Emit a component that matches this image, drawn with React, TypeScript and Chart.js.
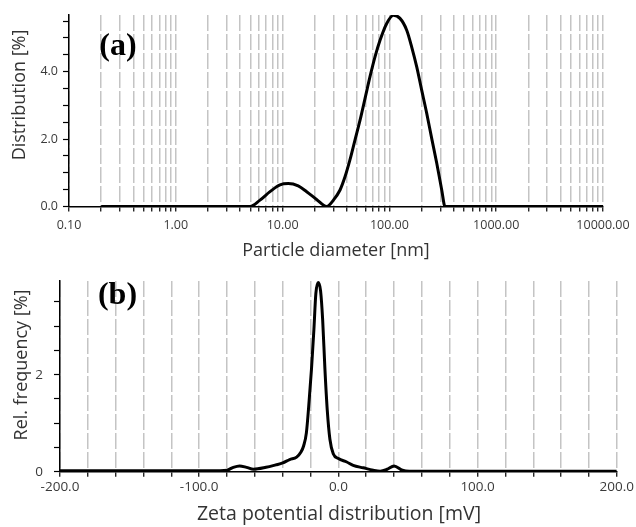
import React, { useEffect, useRef } from 'react';
import { Chart, registerables } from 'chart.js';

Chart.register(...registerables);

// ---------- Panel (a): particle size distribution ----------
const SIZE_NM = [0.2, 4.95, 6.14, 7.62, 9.46, 11.3, 14.0, 16.8, 20.8, 25.9, 29.9, 34.5, 38.4, 42.7, 47.6, 53.1, 59.1, 65.8, 73.3, 81.7, 94.4, 108.9, 125.6, 145.3, 161.8, 180.3, 200.6, 223.4, 248.9, 277.3, 309, 331.7, 10000];
const DISTRIBUTION = [0, 0, 0.19, 0.44, 0.64, 0.68, 0.61, 0.44, 0.21, 0, 0.19, 0.49, 0.88, 1.38, 1.97, 2.56, 3.2, 3.85, 4.44, 4.93, 5.43, 5.67, 5.58, 5.23, 4.73, 4.14, 3.45, 2.77, 2.02, 1.29, 0.49, 0, 0];

const SIZE_TICKS = [0.1, 0.2, 0.3, 0.4, 0.5, 0.6, 0.7, 0.8, 0.9, 1, 2, 3, 4, 5, 6, 7, 8, 9, 10, 20, 30, 40, 50, 60, 70, 80, 90, 100, 200, 300, 400, 500, 600, 700, 800, 900, 1000, 2000, 3000, 4000, 5000, 6000, 7000, 8000, 9000, 10000];
const SIZE_LABELS = [0.1, 1, 10, 100, 1000, 10000];
const DIST_TICKS = [0, 0.5, 1, 1.5, 2, 2.5, 3, 3.5, 4, 4.5, 5, 5.5];
const DIST_LABELS = [0, 2, 4];

// ---------- Panel (b): zeta potential distribution ----------
const ZETA_MV = [-200, -85, -80, -75.5, -71, -66, -61, -52, -45, -40, -35, -30, -27, -25, -23, -21, -19.3, -17.6, -16.2, -14.5, -12.8, -11.3, -9.7, -8, -6.1, -3.7, 0, 6, 10.6, 17.8, 25, 30, 35, 40, 46, 51, 200];
const REL_FREQ = [0.02, 0.02, 0.03, 0.09, 0.12, 0.09, 0.05, 0.09, 0.14, 0.18, 0.25, 0.3, 0.4, 0.53, 0.8, 1.47, 2.13, 2.93, 3.67, 3.9, 3.73, 3.13, 2.13, 1.27, 0.67, 0.37, 0.27, 0.2, 0.13, 0.08, 0.03, 0.01, 0.05, 0.12, 0.03, 0.01, 0.01];

const ZETA_TICKS = [-200, -180, -160, -140, -120, -100, -80, -60, -40, -20, 0, 20, 40, 60, 80, 100, 120, 140, 160, 180, 200];
const ZETA_LABELS = [-200, -100, 0, 100, 200];
const FREQ_TICKS = [0, 0.5, 1, 1.5, 2, 2.5, 3, 3.5];
const FREQ_LABELS = [0, 2];

const FAMILY = '"Open Sans", sans-serif';
const TICK_COLOR = '#3a3a3a';
const GRID_COLOR = '#c4c4c4';
const PANEL_FONT = 'bold 32px "Liberation Serif", "Times New Roman", serif';

type TextItem = { text: string; x: number; y: number; font: string; color: string; rot?: number };

function textPlugin(items: TextItem[]) {
  return {
    id: 'texts',
    afterDraw(chart: any) {
      const ctx = chart.ctx;
      items.forEach((t) => {
        ctx.save();
        ctx.font = t.font;
        ctx.fillStyle = t.color;
        ctx.textAlign = 'center';
        ctx.textBaseline = 'middle';
        ctx.translate(t.x, t.y);
        if (t.rot) ctx.rotate(t.rot);
        ctx.fillText(t.text, 0, 0);
        ctx.restore();
      });
    },
  };
}

function setTicks(values: number[]) {
  return (scale: any) => {
    scale.ticks = values.map((v) => ({ value: v }));
  };
}

function makeSizeConfig(): any {
  const tickFont = { family: FAMILY, size: 12.5 };
  return {
    type: 'line',
    data: {
      datasets: [
        {
          data: SIZE_NM.map((x, i) => ({ x, y: DISTRIBUTION[i] })),
          borderColor: '#000',
          borderWidth: 3,
          pointRadius: 0,
          fill: false,
          cubicInterpolationMode: 'monotone',
        },
      ],
    },
    options: {
      responsive: false,
      animation: false,
      layout: { padding: { top: 15, right: 33, left: 0, bottom: 0 } },
      plugins: { legend: { display: false }, tooltip: { enabled: false } },
      scales: {
        x: {
          type: 'logarithmic',
          min: 0.1,
          max: 10000,
          afterBuildTicks: setTicks(SIZE_TICKS),
          afterFit: (s: any) => { s.height = 55.5; },
          grid: { color: GRID_COLOR, lineWidth: 1.5, tickColor: '#000', tickLength: 5, tickWidth: 1.2 },
          border: { color: '#000', width: 1.5, dash: [16, 3] },
          ticks: {
            autoSkip: false,
            maxRotation: 0,
            padding: 6,
            color: TICK_COLOR,
            font: tickFont,
            callback: (v: any) => (SIZE_LABELS.includes(Number(v)) ? Number(v).toFixed(2) : ''),
          },
        },
        y: {
          type: 'linear',
          min: 0,
          max: 5.68,
          afterBuildTicks: setTicks(DIST_TICKS),
          afterFit: (s: any) => { s.width = 69; },
          grid: { drawOnChartArea: false, tickColor: '#000', tickLength: 6, tickWidth: 1.2 },
          border: { color: '#000', width: 1.5 },
          ticks: {
            autoSkip: false,
            padding: 5,
            color: TICK_COLOR,
            font: tickFont,
            callback: (v: any) => (DIST_LABELS.includes(Number(v)) ? Number(v).toFixed(1) : ''),
          },
        },
      },
    },
    plugins: [
      textPlugin([
        { text: '(a)', x: 118, y: 47, font: PANEL_FONT, color: '#000' },
        { text: 'Particle diameter [nm]', x: 336, y: 251, font: `18px ${FAMILY}`, color: '#333' },
        { text: 'Distribution [%]', x: 20, y: 95, font: `18px ${FAMILY}`, color: '#333', rot: -Math.PI / 2 },
      ]),
    ],
  };
}

function makeZetaConfig(): any {
  const tickFont = { family: FAMILY, size: 13.5 };
  return {
    type: 'line',
    data: {
      datasets: [
        {
          data: ZETA_MV.map((x, i) => ({ x, y: REL_FREQ[i] })),
          borderColor: '#000',
          borderWidth: 3,
          pointRadius: 0,
          fill: false,
          cubicInterpolationMode: 'monotone',
        },
      ],
    },
    options: {
      responsive: false,
      animation: false,
      layout: { padding: { top: 13, right: 19, left: 0, bottom: 0 } },
      plugins: { legend: { display: false }, tooltip: { enabled: false } },
      scales: {
        x: {
          type: 'linear',
          min: -200,
          max: 200,
          afterBuildTicks: setTicks(ZETA_TICKS),
          afterFit: (s: any) => { s.height = 55.3; },
          grid: { color: GRID_COLOR, lineWidth: 1.5, tickColor: '#000', tickLength: 5, tickWidth: 1.2 },
          border: { color: '#000', width: 1.5, dash: [16, 3] },
          ticks: {
            autoSkip: false,
            maxRotation: 0,
            padding: 2,
            color: TICK_COLOR,
            font: tickFont,
            callback: (v: any) => (ZETA_LABELS.includes(Number(v)) ? Number(v).toFixed(1) : ''),
          },
        },
        y: {
          type: 'linear',
          min: 0,
          max: 3.93,
          afterBuildTicks: setTicks(FREQ_TICKS),
          afterFit: (s: any) => { s.width = 60; },
          grid: { drawOnChartArea: false, tickColor: '#000', tickLength: 6, tickWidth: 1.2 },
          border: { color: '#000', width: 1.5 },
          ticks: {
            autoSkip: false,
            padding: 11,
            color: TICK_COLOR,
            font: tickFont,
            callback: (v: any) => (FREQ_LABELS.includes(Number(v)) ? String(v) : ''),
          },
        },
      },
    },
    plugins: [
      textPlugin([
        { text: '(b)', x: 117.5, y: 34, font: PANEL_FONT, color: '#000' },
        { text: 'Zeta potential distribution [mV]', x: 339, y: 252, font: `19.5px ${FAMILY}`, color: '#333' },
        { text: 'Rel. frequency [%]', x: 22, y: 103, font: `18px ${FAMILY}`, color: '#333', rot: -Math.PI / 2 },
      ]),
    ],
  };
}

function ChartCanvas({ top, height, make }: { top: number; height: number; make: () => any }) {
  const ref = useRef<HTMLCanvasElement | null>(null);
  useEffect(() => {
    if (!ref.current) return;
    const chart = new Chart(ref.current, make());
    return () => chart.destroy();
  }, [make]);
  return (
    <canvas
      ref={ref}
      width={636}
      height={height}
      style={{ position: 'absolute', left: 0, top, width: 636, height, display: 'block' }}
    />
  );
}

export default function App() {
  return (
    <div style={{ position: 'absolute', left: 0, top: 0, width: 636, height: 527, background: '#fff', overflow: 'hidden' }}>
      <ChartCanvas top={0} height={262} make={makeSizeConfig} />
      <ChartCanvas top={262} height={265} make={makeZetaConfig} />
    </div>
  );
}
